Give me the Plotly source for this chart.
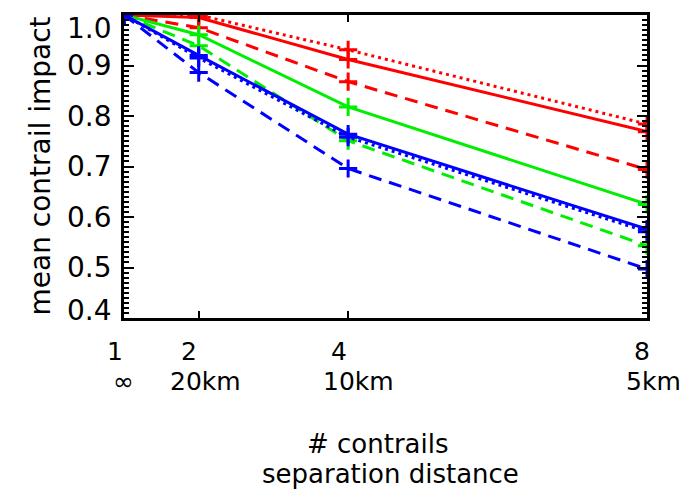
import plotly.graph_objects as go

# ---- data ----
x_vals = [1, 2, 4, 8]
x_labels_top = ["1", "2", "4", "8"]
x_labels_bottom = ["∞", "20km", "10km", "5km"]
y_tick_vals = [0.4, 0.5, 0.6, 0.7, 0.8, 0.9, 1.0]
y_tick_labels = ["0.4", "0.5", "0.6", "0.7", "0.8", "0.9", "1.0"]

red_dotted = [1.0, 1.0, 0.931, 0.784]
red_solid = [1.0, 0.995, 0.912, 0.769]
red_dashed = [1.0, 0.975, 0.868, 0.694]
green_solid = [1.0, 0.961, 0.818, 0.625]
green_dashed = [1.0, 0.939, 0.751, 0.543]
blue_dotted = [1.0, 0.915, 0.758, 0.571]
blue_solid = [1.0, 0.920, 0.764, 0.576]
blue_dashed = [1.0, 0.886, 0.696, 0.497]

RED, GREEN, BLUE = "#ff0000", "#00ee00", "#0000ff"
DASH = "13px,8px"
DOT = "3px,4px"

series = [
    (red_dotted, RED, DOT),
    (red_dashed, RED, DASH),
    (red_solid, RED, "solid"),
    (green_dashed, GREEN, DASH),
    (green_solid, GREEN, "solid"),
    (blue_dotted, BLUE, DOT),
    (blue_dashed, BLUE, DASH),
    (blue_solid, BLUE, "solid"),
]

FONT = "DejaVu Sans"
FS = 28
fig = go.Figure()
for ys, col, dash in series:
    fig.add_trace(go.Scatter(
        x=x_vals, y=ys, mode="lines+markers",
        line=dict(color=col, width=3, dash=dash),
        marker=dict(symbol="cross-thin", size=13, color=col,
                    line=dict(color=col, width=3)),
        showlegend=False,
    ))

fig.update_layout(
    width=700, height=490,
    margin=dict(l=124, r=53, t=12, b=172),
    paper_bgcolor="white", plot_bgcolor="white",
    font=dict(family=FONT, size=FS, color="black"),
)
fig.update_xaxes(
    range=[1, 8], tickvals=x_vals, showticklabels=False,
    ticks="inside", ticklen=7, tickwidth=2, tickcolor="black",
    showline=True, linecolor="black", linewidth=3, mirror="ticks",
    showgrid=False, zeroline=False,
)
fig.update_yaxes(
    range=[0.4, 1.0], tickvals=y_tick_vals, showticklabels=False,
    ticks="inside", ticklen=10, tickwidth=2, tickcolor="black",
    minor=dict(dtick=0.01, ticks="inside", ticklen=5, tickwidth=1.5, tickcolor="black"),
    showline=True, linecolor="black", linewidth=3, mirror="ticks",
    showgrid=False, zeroline=False,
)

# x tick labels (two rows)
XFS = 25
top_shift = [-9, -10, -9, -5]
bot_shift = [-1, 7, 10, 6]
for xv, t, b, s1, s2 in zip(x_vals, x_labels_top, x_labels_bottom, top_shift, bot_shift):
    fig.add_annotation(x=xv, xref="x", y=0, yref="paper", text=t, showarrow=False,
                       xanchor="center", yanchor="middle", xshift=s1, yshift=-33,
                       borderpad=0, font=dict(family=FONT, size=XFS))
    fig.add_annotation(x=xv, xref="x", y=0, yref="paper", text=b, showarrow=False,
                       xanchor="center", yanchor="middle", xshift=s2, yshift=-63,
                       borderpad=0, font=dict(family=FONT, size=XFS))

# y tick labels
for yv, lab in zip(y_tick_vals, y_tick_labels):
    ys = -13 if yv == 1.0 else (8 if yv == 0.4 else 0)
    fig.add_annotation(x=0, xref="paper", y=yv, yref="y", text=lab, showarrow=False,
                       xanchor="right", yanchor="middle", xshift=-11, yshift=ys,
                       borderpad=0, font=dict(family=FONT, size=FS))

# axis titles
TFS = 26
fig.add_annotation(x=0.5, xref="paper", y=0, yref="paper",
                   text="# contrails", showarrow=False, xanchor="center", yanchor="middle",
                   xshift=-8, yshift=-126, borderpad=0, font=dict(family=FONT, size=TFS))
fig.add_annotation(x=0.5, xref="paper", y=0, yref="paper",
                   text="separation distance", showarrow=False, xanchor="center",
                   yanchor="middle", xshift=5, yshift=-156, borderpad=0,
                   font=dict(family=FONT, size=TFS))
fig.add_annotation(x=0, xref="paper", y=0.5, yref="paper", text="mean contrail impact",
                   showarrow=False, textangle=-90, xanchor="center", yanchor="middle",
                   xshift=-84, borderpad=0, font=dict(family=FONT, size=FS))

fig.write_html("out.html")
